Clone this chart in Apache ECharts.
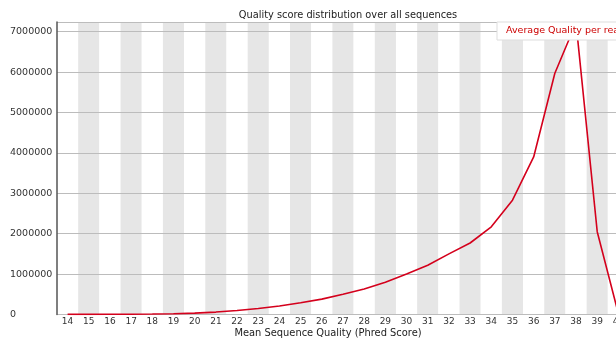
<!DOCTYPE html>
<html>
<head>
<meta charset="utf-8">
<script src="https://cdn.jsdelivr.net/npm/echarts@6/dist/echarts.min.js"></script>
<style>
  html, body { margin: 0; padding: 0; background: #fff; overflow: hidden; }
  /* the plot is wider than the window: the last category falls off the right edge */
  #chart { width: 629px; height: 340px; }
</style>
</head>
<body>
<div id="chart"></div>
<script>
// Mean per-read Phred quality (x) against number of reads (y)
const qualityScores = ['14','15','16','17','18','19','20','21','22','23','24','25','26','27',
  '28','29','30','31','32','33','34','35','36','37','38','39','40'];
const readCounts = [3000, 4000, 5000, 8000, 12000, 20000, 35000, 60000, 100000, 150000, 210000,
  290000, 380000, 500000, 630000, 800000, 1000000, 1220000, 1500000, 1770000, 2170000,
  2830000, 3900000, 5970000, 7220000, 2050000, 20000];
const yTicks = [0, 1000000, 2000000, 3000000, 4000000, 5000000, 6000000, 7000000];
const seriesName = 'Average Quality per read';

const chart = echarts.init(document.getElementById('chart'), null, { renderer: 'canvas' });
const font = 'DejaVu Sans, sans-serif';

chart.setOption({
  animation: false,
  backgroundColor: '#ffffff',
  title: [
    {
      text: 'Quality score distribution over all sequences',
      left: 343, top: 5, textAlign: 'center',
      textStyle: { fontFamily: font, fontSize: 9.8, fontWeight: 'normal', color: '#222' }
    },
    {
      text: 'Mean Sequence Quality (Phred Score)',
      left: 323, top: 323, textAlign: 'center',
      textStyle: { fontFamily: font, fontSize: 9.9, fontWeight: 'normal', color: '#222' }
    }
  ],
  legend: {
    data: [{ name: seriesName, icon: 'none' }],
    left: 497, top: 22,
    itemWidth: 0, itemHeight: 0, itemGap: 0,
    padding: [4, 4, 4, 4],
    backgroundColor: '#ffffff',
    borderColor: '#dddddd', borderWidth: 1,
    textStyle: { fontFamily: font, fontSize: 9.5, color: '#cc0000', padding: [0, 0, 0, 0] }
  },
  grid: { left: 57, right: 0, top: 22, bottom: 25.5, containLabel: false },
  xAxis: {
    type: 'category',
    data: qualityScores,
    boundaryGap: true,
    z: 0,
    axisLine: { show: true, lineStyle: { color: '#bbbbbb', width: 1 } },
    axisTick: { show: false },
    axisLabel: { fontFamily: font, fontSize: 9, color: '#333', margin: 3, interval: 0 },
    splitLine: { show: false },
    splitArea: { show: true, interval: 0, areaStyle: { color: ['#ffffff', '#e6e6e6'] } }
  },
  yAxis: {
    type: 'value',
    min: 0,
    max: 7240000,
    interval: 1000000,
    z: 1,
    axisLine: { show: true, lineStyle: { color: '#555555', width: 1.5 } },
    axisTick: { show: false },
    axisLabel: {
      fontFamily: font, fontSize: 9.5, color: '#333', align: 'left', margin: 47,
      showMaxLabel: false,
      formatter: v => (yTicks.indexOf(v) >= 0 ? String(v) : '')
    },
    splitLine: { show: true, lineStyle: { color: '#bcbcbc', width: 1 } }
  },
  series: [{
    name: seriesName,
    type: 'line',
    data: readCounts,
    symbol: 'none',
    smooth: false,
    lineStyle: { color: '#d4001c', width: 1.6 },
    itemStyle: { color: '#d4001c' },
    z: 3
  }]
});
</script>
</body>
</html>
